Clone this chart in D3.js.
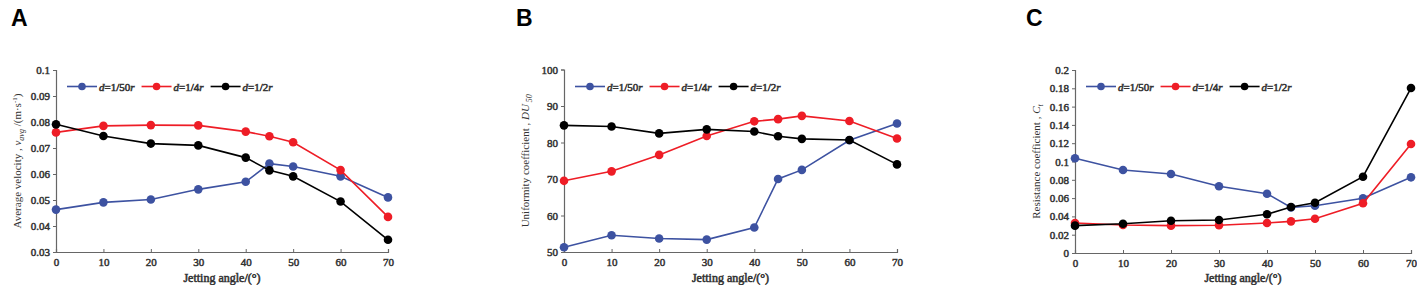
<!DOCTYPE html>
<html>
<head>
<meta charset="utf-8">
<script src="https://cdn.jsdelivr.net/npm/d3@7"></script>
<style>
  body { margin: 0; background: #fff; }
  svg { display: block; }
  text { font-family: 'Liberation Serif', 'DejaVu Serif', serif; }
  /* bold serif is faked with a thin stroke */
  .heavy { fill: #333; stroke: #333; stroke-width: 0.55px; }
  .tick text { font-size: 11px; fill: #333; stroke: #333; stroke-width: 0.5px; }
</style>
</head>
<body>
<div id="wrapper"></div>
<script>
// angles (x) shared by every panel
const angles = [0, 10, 20, 30, 40, 45, 50, 60, 70];
const xTicks = [0, 10, 20, 30, 40, 50, 60, 70];
const seriesNames = ["1/50", "1/4", "1/2"];
const seriesColors = ["#3d52a1", "#ee1d26", "#000000"];

// A: average velocity
const velD50 = [0.0463, 0.0491, 0.0502, 0.0541, 0.0570, 0.0640, 0.0629, 0.0591, 0.0510];
const velD4  = [0.0760, 0.0785, 0.0788, 0.0787, 0.0763, 0.0745, 0.0722, 0.0615, 0.0435];
const velD2  = [0.0791, 0.0746, 0.0717, 0.0710, 0.0663, 0.0614, 0.0591, 0.0494, 0.0347];
const velTicks = [0.03, 0.04, 0.05, 0.06, 0.07, 0.08, 0.09, 0.1];

// B: uniformity coefficient
const duD50 = [51.3, 54.6, 53.7, 53.4, 56.7, 70.0, 72.5, 80.6, 85.2];
const duD4  = [69.5, 72.1, 76.6, 81.8, 85.8, 86.4, 87.3, 85.9, 81.1];
const duD2  = [84.7, 84.4, 82.5, 83.6, 83.0, 81.7, 81.0, 80.7, 74.0];
const duTicks = [50, 60, 70, 80, 90, 100];

// C: resistance coefficient
const ctD50 = [0.1035, 0.0907, 0.0863, 0.0729, 0.0648, 0.0499, 0.0517, 0.0598, 0.0827];
const ctD4  = [0.0328, 0.0306, 0.0299, 0.0303, 0.0328, 0.0346, 0.0375, 0.0543, 0.1191];
const ctD2  = [0.0299, 0.0320, 0.0353, 0.0361, 0.0423, 0.0503, 0.0550, 0.0834, 0.1803];
const ctTicks = [0, 0.02, 0.04, 0.06, 0.08, 0.1, 0.12, 0.14, 0.16, 0.18, 0.2];

const width = 1417, height = 285;

const svg = d3.select("#wrapper").append("svg")
  .attr("width", width).attr("height", height);

const panels = [
  { letter: "A", lx: 11, left: 56, right: 388, top: 70, bottom: 252,
    domain: [0.03, 0.1], ticks: velTicks, fmt: d => String(+d.toFixed(2)),
    series: [velD50, velD4, velD2], ylab: "velocity" },
  { letter: "B", lx: 516, left: 564, right: 897, top: 69.5, bottom: 252,
    domain: [50, 100], ticks: duTicks, fmt: d => String(d),
    series: [duD50, duD4, duD2], ylab: "du" },
  { letter: "C", lx: 1026, left: 1075, right: 1411, top: 70, bottom: 253,
    domain: [0, 0.2], ticks: ctTicks, fmt: d => String(+d.toFixed(2)),
    series: [ctD50, ctD4, ctD2], ylab: "ct" }
];

panels.forEach(p => {
  const x = d3.scaleLinear().domain([0, 70]).range([p.left, p.right]);
  const y = d3.scaleLinear().domain(p.domain).range([p.bottom, p.top]);
  const g = svg.append("g");

  // panel letter
  svg.append("text")
    .attr("x", p.lx).attr("y", 26)
    .style("font-family", "'Liberation Sans', Arial, sans-serif")
    .style("font-weight", "bold").style("font-size", "23px")
    .text(p.letter);

  // axes
  const xAxis = g.append("g")
    .attr("transform", `translate(0,${p.bottom})`)
    .call(d3.axisBottom(x).tickValues(xTicks).tickSize(-3).tickPadding(6));
  const yAxis = g.append("g")
    .attr("transform", `translate(${p.left},0)`)
    .call(d3.axisLeft(y).tickValues(p.ticks).tickFormat(p.fmt).tickSize(3).tickPadding(3));
  [xAxis, yAxis].forEach(a => {
    a.attr("font-family", null).attr("font-size", null);
    a.select(".domain").attr("stroke", "#666").attr("stroke-width", 1.2);
    a.selectAll(".tick line").attr("stroke", "#666");
  });

  // x axis title
  svg.append("text").attr("class", "heavy")
    .attr("x", (p.left + p.right) / 2).attr("y", 282)
    .attr("text-anchor", "middle")
    .style("font-size", "12px")
    .text("Jetting angle/(°)");

  // y axis title
  const yl = svg.append("text")
    .attr("transform", `translate(${p.left - 35},${(p.top + p.bottom) / 2})rotate(-90)`)
    .attr("text-anchor", "middle")
    .style("font-size", "11px").style("fill", "#333");
  if (p.ylab === "velocity") {
    yl.append("tspan").text("Average velocity , ");
    yl.append("tspan").style("font-style", "italic").text("v");
    yl.append("tspan").attr("dy", 3).style("font-size", "8px").style("font-style", "italic").text("avg");
    yl.append("tspan").attr("dy", -3).text(" /(m·s");
    yl.append("tspan").attr("dy", -4).style("font-size", "7px").text("-1");
    yl.append("tspan").attr("dy", 4).text(")");
  } else if (p.ylab === "du") {
    yl.append("tspan").text("Uniformity coefficient , ");
    yl.append("tspan").style("font-style", "italic").text("DU");
    yl.append("tspan").attr("dy", 3).style("font-size", "8px").style("font-style", "italic").text(" 50");
  } else {
    yl.append("tspan").text("Resistance coefficient , ");
    yl.append("tspan").style("font-style", "italic").text("C");
    yl.append("tspan").attr("dy", 3).style("font-size", "8px").style("font-style", "italic").text("t");
  }

  // lines and markers
  const line = d3.line().x((d, i) => x(angles[i])).y(d => y(d));
  p.series.forEach((vals, si) => {
    g.append("path").datum(vals)
      .attr("d", line).attr("fill", "none")
      .attr("stroke", seriesColors[si]).attr("stroke-width", 1.6);
    g.selectAll(null).data(vals).enter().append("circle")
      .attr("cx", (d, i) => x(angles[i])).attr("cy", d => y(d))
      .attr("r", 4.3).attr("fill", seriesColors[si]);
  });

  // legend
  let lx = p.left + 11;
  const ly = 86.5;
  seriesNames.forEach((name, si) => {
    const lg = svg.append("g");
    lg.append("line").attr("x1", lx).attr("x2", lx + 30).attr("y1", ly).attr("y2", ly)
      .attr("stroke", seriesColors[si]).attr("stroke-width", 1.6);
    lg.append("circle").attr("cx", lx + 15).attr("cy", ly).attr("r", 3.8).attr("fill", seriesColors[si]);
    const t = lg.append("text").attr("class", "heavy").attr("x", lx + 32).attr("y", ly + 4)
      .style("font-size", "11px");
    t.append("tspan").style("font-style", "italic").text("d");
    t.append("tspan").text("=" + name);
    t.append("tspan").style("font-style", "italic").text("r");
    lx += 32 + t.node().getComputedTextLength() + 7;
  });
});
</script>
</body>
</html>
